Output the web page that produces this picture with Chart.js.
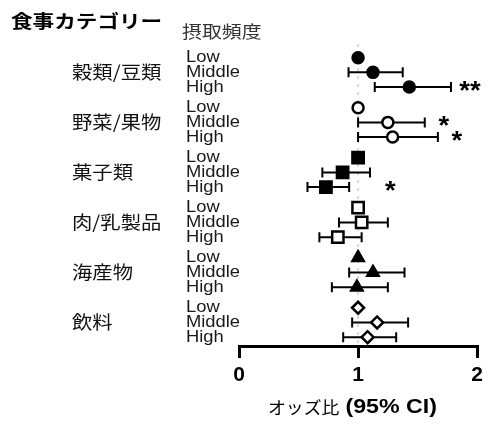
<!DOCTYPE html>
<html>
<head>
<meta charset="utf-8">
<script src="https://cdn.jsdelivr.net/npm/chart.js@4"></script>
<style>
  html, body { margin: 0; padding: 0; background: #fff; }
  #wrap { width: 488px; height: 424px; }
</style>
</head>
<body>
<div id="wrap"><canvas id="myChart" width="488" height="424"></canvas></div>
<script>
// Data
const categories = ['穀類/豆類', '野菜/果物', '菓子類', '肉/乳製品', '海産物', '飲料'];
const levels = ['Low', 'Middle', 'High'];
// odds ratio per category: [Low, Middle, High]
const oddsRatio = [
    [1, 1.125, 1.43],
    [1, 1.25, 1.29],
    [1, 0.87, 0.73],
    [1, 1.03, 0.83],
    [1, 1.125, 0.99],
    [1, 1.16, 1.08]];
const ciLower = [
    [null, 0.92, 1.14],
    [null, 1.0, 1.0],
    [null, 0.70, 0.575],
    [null, 0.84, 0.675],
    [null, 0.925, 0.78],
    [null, 0.95, 0.875]];
const ciUpper = [
    [null, 1.375, 1.78],
    [null, 1.56, 1.67],
    [null, 1.10, 0.925],
    [null, 1.25, 1.03],
    [null, 1.39, 1.25],
    [null, 1.42, 1.32]];
const signif = [
    ['', '', '**'],
    ['', '*', '*'],
    ['', '', '*'],
    ['', '', ''],
    ['', '', ''],
    ['', '', '']];
const xTicks = [0, 1, 2];

const GROUP_GAP = 3.4;
const rowY = (g, r) => g * GROUP_GAP + r;

const markerStyle = ['circle', 'circle', 'rect', 'rect', 'triangle', 'rectRot'];
const markerFill = ['#000', '#fff', '#000', '#fff', '#000', '#fff'];
const markerSize = [5.5, 5.5, 8, 8, 6.5, 6];

const JP = '"Noto Sans CJK JP", sans-serif';
const LAT = '"Liberation Sans", Arial, sans-serif';

// text with a bit of horizontal stretch, like the source figure
function stretchText(ctx, text, x, y, font, sx, align, color) {
    ctx.save();
    ctx.font = font;
    ctx.fillStyle = color || '#000';
    ctx.textBaseline = 'middle';
    ctx.textAlign = 'left';
    const w = ctx.measureText(text).width * sx;
    let left = x;
    if (align === 'center') left = x - w / 2;
    if (align === 'right') left = x - w;
    ctx.translate(left, y);
    ctx.scale(sx, 1);
    ctx.fillText(text, 0, 0);
    ctx.restore();
    return w;
}

const forestPlugin = {
    id: 'forest',
    beforeDatasetsDraw: (chart) => {
        const { ctx, chartArea } = chart;
        const xs = chart.scales.x, ys = chart.scales.y;
        // reference line at OR = 1
        ctx.save();
        ctx.strokeStyle = '#d8d8d8';
        ctx.lineWidth = 2;
        ctx.setLineDash([3, 5]);
        ctx.beginPath();
        ctx.moveTo(xs.getPixelForValue(1), chartArea.top + 4);
        ctx.lineTo(xs.getPixelForValue(1), chartArea.bottom);
        ctx.stroke();
        ctx.restore();

        // error bars
        ctx.save();
        ctx.strokeStyle = '#000';
        ctx.lineWidth = 2;
        categories.forEach((c, g) => {
            levels.forEach((l, r) => {
                const lo = ciLower[g][r], hi = ciUpper[g][r];
                if (lo === null || hi === null) return;
                const y = ys.getPixelForValue(rowY(g, r));
                const x1 = xs.getPixelForValue(lo), x2 = xs.getPixelForValue(hi);
                ctx.beginPath();
                ctx.moveTo(x1, y); ctx.lineTo(x2, y);
                ctx.moveTo(x1, y - 5); ctx.lineTo(x1, y + 5);
                ctx.moveTo(x2, y - 5); ctx.lineTo(x2, y + 5);
                ctx.stroke();
            });
        });
        ctx.restore();
    },
    afterDraw: (chart) => {
        const { ctx } = chart;
        const xs = chart.scales.x, ys = chart.scales.y;

        stretchText(ctx, '食事カテゴリー', 11, 21, 'bold 18px ' + JP, 1.2, 'left', '#000');
        stretchText(ctx, '摂取頻度', 182, 32, '17px ' + JP, 1.17, 'left', '#333');

        categories.forEach((c, g) => {
            stretchText(ctx, c, 72, ys.getPixelForValue(rowY(g, 1)), '18px ' + JP, 1.13, 'left', '#111');
            levels.forEach((l, r) => {
                const y = ys.getPixelForValue(rowY(g, r));
                stretchText(ctx, l, 186, y, '17px ' + LAT, 1.08, 'left', '#1a1a1a');
                const s = signif[g][r];
                if (s) {
                    const sx = xs.getPixelForValue(Math.max(ciUpper[g][r] + 0.16, 1.27));
                    stretchText(ctx, s, sx, y + 5, 'bold 25px ' + LAT, 1.1, 'center', '#000');
                }
            });
        });

        // axis title
        const w1 = stretchText(ctx, 'オッズ比 ', 268, 408, '17px ' + JP, 1.05, 'left', '#000');
        stretchText(ctx, '(95% CI)', 268 + w1 + 2, 408, 'bold 19.5px ' + LAT, 1.19, 'left', '#000');
    }
};

const datasets = categories.map((c, g) => ({
    label: c,
    data: oddsRatio[g].map((v, r) => ({ x: v, y: rowY(g, r) })),
    pointStyle: markerStyle[g],
    pointRadius: markerSize[g],
    backgroundColor: markerFill[g],
    borderColor: '#000',
    pointBorderWidth: 2.5,
    showLine: false
}));

const ctx = document.getElementById('myChart');
const myChart = new Chart(ctx, {
    type: 'scatter',
    data: { datasets: datasets },
    options: {
        responsive: false,
        animation: false,
        layout: { padding: { left: 239, right: 9, top: 40, bottom: 0 } },
        plugins: {
            legend: { display: false },
            tooltip: { enabled: false }
        },
        scales: {
            x: {
                type: 'linear',
                min: 0,
                max: 2,
                afterBuildTicks: (scale) => { scale.ticks = xTicks.map(v => ({ value: v })); },
                afterFit: (scale) => { scale.height = 78; },
                border: { display: true, color: '#000', width: 3 },
                grid: { drawOnChartArea: false, drawTicks: true, tickLength: 12, color: '#000', lineWidth: 3 },
                ticks: {
                    color: '#000',
                    padding: 5,
                    maxRotation: 0,
                    font: { family: LAT, size: 21, weight: 'bold' }
                }
            },
            y: {
                type: 'linear',
                display: false,
                reverse: true,
                min: -1.2,
                max: 19.6
            }
        }
    },
    plugins: [forestPlugin]
});
</script>
</body>
</html>
